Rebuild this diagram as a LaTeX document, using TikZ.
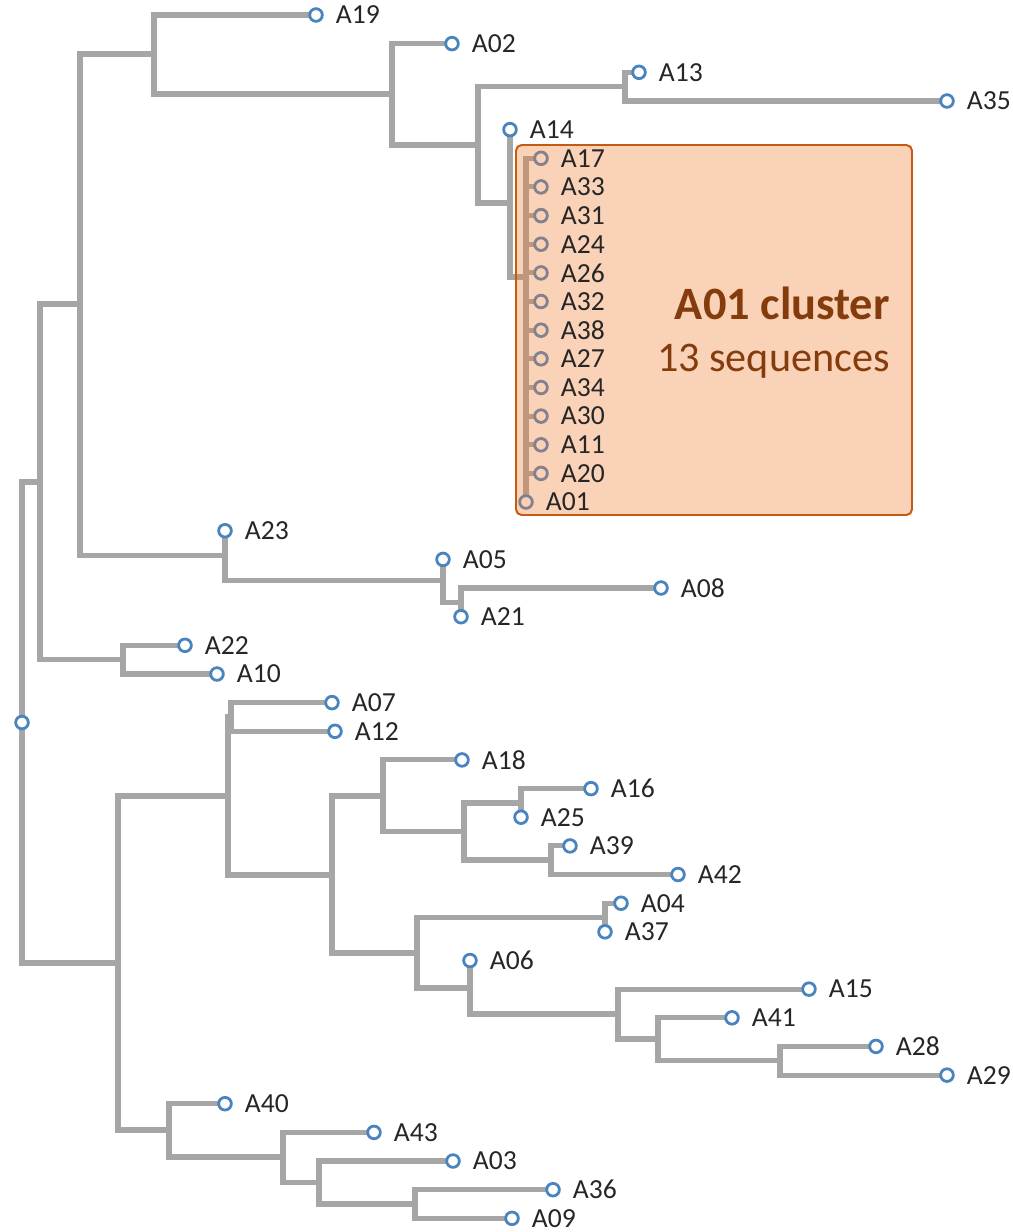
\documentclass[tikz,border=0pt]{standalone}
\usepackage{fontspec}
\setmainfont{Carlito}
\usetikzlibrary{positioning,backgrounds}
\definecolor{branchgrey}{HTML}{A6A6A6}
\definecolor{tipblue}{HTML}{4A84BF}
\definecolor{labtext}{HTML}{262626}
\definecolor{boxorange}{HTML}{ED7D31}
\definecolor{boxedge}{HTML}{C55A11}
\definecolor{boxtext}{HTML}{843C0C}

\begin{document}
\begin{tikzpicture}[x=0.025cm, y=-0.025cm, node distance=8.5pt,
  leaf/.style={circle, draw=tipblue, fill=white, line width=2pt, minimum size=9pt, inner sep=0pt},
  lab/.style={inner sep=0pt, text=labtext, font=\fontsize{19.6}{23}\selectfont},
  branch/.style={draw=branchgrey, line width=3.6pt}]
\useasboundingbox (0,0) rectangle (1013,1232);
% --- Tips (top to bottom) ---
\node[leaf] (A19) at (316,15) {};
\node[leaf] (A02) at (452,43.6) {};
\node[leaf] (A13) at (639,72.3) {};
\node[leaf] (A35) at (947,101) {};
\node[leaf] (A14) at (510,129.6) {};
\node[leaf] (A17) at (541,158.3) {};
\node[leaf] (A33) at (541,186.9) {};
\node[leaf] (A31) at (541,215.6) {};
\node[leaf] (A24) at (541,244.2) {};
\node[leaf] (A26) at (541,272.9) {};
\node[leaf] (A32) at (541,301.5) {};
\node[leaf] (A38) at (541,330.2) {};
\node[leaf] (A27) at (541,358.8) {};
\node[leaf] (A34) at (541,387.5) {};
\node[leaf] (A30) at (541,416.1) {};
\node[leaf] (A11) at (541,444.8) {};
\node[leaf] (A20) at (541,473.4) {};
\node[leaf] (A01) at (526,502) {};
\node[leaf] (A23) at (225,530.7) {};
\node[leaf] (A05) at (443,559.4) {};
\node[leaf] (A08) at (661,588) {};
\node[leaf] (A21) at (461,616.7) {};
\node[leaf] (A22) at (185,645.3) {};
\node[leaf] (A10) at (217,674) {};
\node[leaf] (A07) at (332,702.6) {};
\node[leaf] (A12) at (335,731.3) {};
\node[leaf] (A18) at (462,759.9) {};
\node[leaf] (A16) at (591,788.6) {};
\node[leaf] (A25) at (521,817.2) {};
\node[leaf] (A39) at (570,845.9) {};
\node[leaf] (A42) at (678,874.5) {};
\node[leaf] (A04) at (621,903.2) {};
\node[leaf] (A37) at (605,931.8) {};
\node[leaf] (A06) at (470,960.5) {};
\node[leaf] (A15) at (809,989.1) {};
\node[leaf] (A41) at (732,1017.8) {};
\node[leaf] (A28) at (876,1046.4) {};
\node[leaf] (A29) at (947,1075.1) {};
\node[leaf] (A40) at (225,1103.7) {};
\node[leaf] (A43) at (374,1132.4) {};
\node[leaf] (A03) at (453,1161) {};
\node[leaf] (A36) at (553,1189.7) {};
\node[leaf] (A09) at (512,1218.3) {};
\node[leaf] (root) at (22,722.5) {};
%
% --- Inner nodes ---
\coordinate (b1) at (40,482);
\coordinate (b2) at (80,304);
\coordinate (b3) at (154,54);
\coordinate (b4) at (392,94);
\coordinate (b5) at (478,145);
\coordinate (b6) at (625,86.7);
\coordinate (b7) at (510,203);
\coordinate (cl) at (526,277); % A01 cluster
\coordinate (b8) at (225,555.5);
\coordinate (b9) at (443,580.5);
\coordinate (b10) at (461,602.3);
\coordinate (b11) at (123,659.6);
\coordinate (b12) at (118,963);
\coordinate (b13) at (228,796);
\coordinate (b14) at (231,717);
\coordinate (b15) at (332,875);
\coordinate (b16) at (383,796);
\coordinate (b17) at (464,831.5);
\coordinate (b18) at (521,803);
\coordinate (b19) at (551,860);
\coordinate (b20) at (417,953);
\coordinate (b21) at (605,917.5);
\coordinate (b22) at (470,988);
\coordinate (b23) at (618,1014);
\coordinate (b24) at (658,1039);
\coordinate (b25) at (780,1060.8);
\coordinate (b26) at (169,1130);
\coordinate (b27) at (283,1157);
\coordinate (b28) at (319,1182.5);
\coordinate (b29) at (415,1204);
%
% --- Branches ---
\begin{scope}[on background layer]
\draw[branch] (root.center) |- (b1) (root.center) |- (b12);
\draw[branch] (b1) |- (b2) (b1) |- (b11);
\draw[branch] (b2) |- (b3) (b2) |- (b8);
\draw[branch] (b3) |- (A19.center) (b3) |- (b4);
\draw[branch] (b4) |- (A02.center) (b4) |- (b5);
\draw[branch] (b5) |- (b6) (b5) |- (b7);
\draw[branch] (b6) |- (A13.center) (b6) |- (A35.center);
\draw[branch] (b7) -- (A14.center) (b7) |- (cl);
\draw[branch] (cl) |- (A17.center) (cl) |- (A33.center) (cl) |- (A31.center)
  (cl) |- (A24.center) (cl) |- (A26.center) (cl) |- (A32.center) (cl) |- (A38.center)
  (cl) |- (A27.center) (cl) |- (A34.center) (cl) |- (A30.center) (cl) |- (A11.center)
  (cl) |- (A20.center) (cl) -- (A01.center);
\draw[branch] (b8) -- (A23.center) (b8) |- (b9);
\draw[branch] (b9) -- (A05.center) (b9) |- (b10);
\draw[branch] (b10) |- (A08.center) (b10) -- (A21.center);
\draw[branch] (b11) |- (A22.center) (b11) |- (A10.center);
%
\draw[branch] (b12) |- (b13) (b12) |- (b26);
\draw[branch] (b13) |- (b14) (b13) |- (b15);
\draw[branch] (b14) |- (A07.center) (b14) |- (A12.center);
\draw[branch] (b15) |- (b16) (b15) |- (b20);
\draw[branch] (b16) |- (A18.center) (b16) |- (b17);
\draw[branch] (b17) |- (b18) (b17) |- (b19);
\draw[branch] (b18) |- (A16.center) (b18) -- (A25.center);
\draw[branch] (b19) |- (A39.center) (b19) |- (A42.center);
\draw[branch] (b20) |- (b21) (b20) |- (b22);
\draw[branch] (b21) |- (A04.center) (b21) -- (A37.center);
\draw[branch] (b22) -- (A06.center) (b22) |- (b23);
\draw[branch] (b23) |- (A15.center) (b23) |- (b24);
\draw[branch] (b24) |- (A41.center) (b24) |- (b25);
\draw[branch] (b25) |- (A28.center) (b25) |- (A29.center);
\draw[branch] (b26) |- (A40.center) (b26) |- (b27);
\draw[branch] (b27) |- (A43.center) (b27) |- (b28);
\draw[branch] (b28) |- (A03.center) (b28) |- (b29);
\draw[branch] (b29) |- (A36.center) (b29) |- (A09.center);
\end{scope}
%
% --- Cluster box (over the tree) ---
\draw[boxedge, line width=1.4pt, rounded corners=4pt, fill=boxorange, fill opacity=0.35]
  (516,145) rectangle (912,515);
\node[anchor=base east, inner sep=0pt, text=boxtext, font=\bfseries\fontsize{33}{40}\selectfont]
  (ctitle) at (890,319) {A01 cluster};
\node[anchor=base east, inner sep=0pt, text=boxtext, font=\fontsize{30}{36}\selectfont]
  (ccount) at (890,371) {13 sequences};
%
% --- Tip labels ---
\node[lab, right=of A19] (l19) {A19};
\node[lab, right=of A02] (l02) {A02};
\node[lab, right=of A13] (l13) {A13};
\node[lab, right=of A35] (l35) {A35};
\node[lab, right=of A14] (l14) {A14};
\node[lab, right=of A17] (l17) {A17};
\node[lab, right=of A33] (l33) {A33};
\node[lab, right=of A31] (l31) {A31};
\node[lab, right=of A24] (l24) {A24};
\node[lab, right=of A26] (l26) {A26};
\node[lab, right=of A32] (l32) {A32};
\node[lab, right=of A38] (l38) {A38};
\node[lab, right=of A27] (l27) {A27};
\node[lab, right=of A34] (l34) {A34};
\node[lab, right=of A30] (l30) {A30};
\node[lab, right=of A11] (l11) {A11};
\node[lab, right=of A20] (l20) {A20};
\node[lab, right=of A01] (l01) {A01};
\node[lab, right=of A23] (l23) {A23};
\node[lab, right=of A05] (l05) {A05};
\node[lab, right=of A08] (l08) {A08};
\node[lab, right=of A21] (l21) {A21};
\node[lab, right=of A22] (l22) {A22};
\node[lab, right=of A10] (l10) {A10};
\node[lab, right=of A07] (l07) {A07};
\node[lab, right=of A12] (l12) {A12};
\node[lab, right=of A18] (l18) {A18};
\node[lab, right=of A16] (l16) {A16};
\node[lab, right=of A25] (l25) {A25};
\node[lab, right=of A39] (l39) {A39};
\node[lab, right=of A42] (l42) {A42};
\node[lab, right=of A04] (l04) {A04};
\node[lab, right=of A37] (l37) {A37};
\node[lab, right=of A06] (l06) {A06};
\node[lab, right=of A15] (l15) {A15};
\node[lab, right=of A41] (l41) {A41};
\node[lab, right=of A28] (l28) {A28};
\node[lab, right=of A29] (l29) {A29};
\node[lab, right=of A40] (l40) {A40};
\node[lab, right=of A43] (l43) {A43};
\node[lab, right=of A03] (l03) {A03};
\node[lab, right=of A36] (l36) {A36};
\node[lab, right=of A09] (l09) {A09};
\end{tikzpicture}
\end{document}
